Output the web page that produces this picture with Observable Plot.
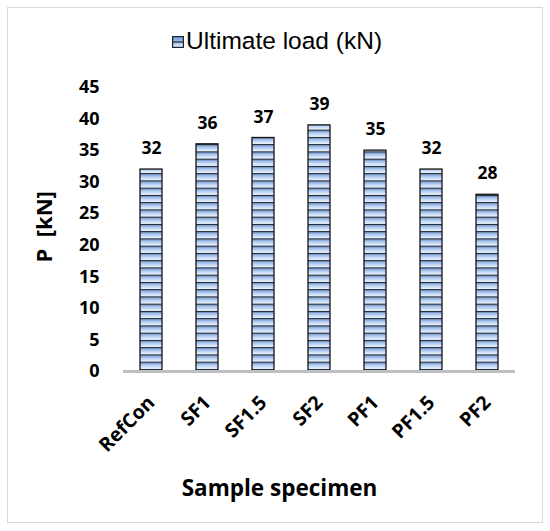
<!DOCTYPE html>
<html>
<head>
<meta charset="utf-8">
<script src="https://cdn.jsdelivr.net/npm/d3@7"></script>
<script src="https://cdn.jsdelivr.net/npm/@observablehq/plot@0.6"></script>
<style>
  html, body { margin: 0; padding: 0; background: #fff; }
  #wrap { position: relative; width: 550px; height: 531px; background: #fff; overflow: hidden; }
  #frame { position: absolute; left: 7px; top: 7px; width: 534px; height: 514px; border: 1px solid #d9d9d9; pointer-events: none; }
  #legend { position: relative; width: 550px; height: 70px; }
  #legend svg.key { position: absolute; left: 172px; top: 35.5px; }
  #legend span { position: absolute; left: 186px; top: 29px; font-family: "Liberation Sans", Arial, sans-serif; font-size: 24.5px; line-height: 24px; color: #000; white-space: nowrap; }
  #plot { position: absolute; left: 0; top: 70px; }
</style>
</head>
<body>
<div id="wrap">
  <div id="legend">
    <svg class="key" width="12" height="12" viewBox="0 0 12 12">
      <defs>
        <linearGradient id="keyGrad" x1="0" y1="0" x2="0" y2="1">
          <stop offset="0" stop-color="#6b97d6"/>
          <stop offset="1" stop-color="#e2ecfa"/>
        </linearGradient>
      </defs>
      <rect x="0.6" y="0.6" width="10.8" height="10.8" fill="url(#keyGrad)" stroke="#1c2633" stroke-width="1.2"/>
      <rect x="0.6" y="5.4" width="10.8" height="1.2" fill="#1c2633"/>
    </svg>
    <span>Ultimate load (kN)</span>
  </div>
  <div id="plot"></div>
  <div id="frame"></div>
</div>
<script>
// ---- data ----
const specimens = ["RefCon", "SF1", "SF1.5", "SF2", "PF1", "PF1.5", "PF2"];
const loads = [32, 36, 37, 39, 35, 32, 28];
const yTicks = [0, 5, 10, 15, 20, 25, 30, 35, 40, 45];
const yTitle = "P\u00a0\u00a0[kN]";
const xTitle = "Sample specimen";

const rows = specimens.map((name, i) => ({name, value: loads[i]}));

const STRIPE = 7.25;
const font = "'Open Sans', Lato, sans-serif";

function stripeDefs(index, scales) {
  const ns = "http://www.w3.org/2000/svg";
  const g = document.createElementNS(ns, "g");
  const y0 = scales.y(0);
  g.innerHTML = `
    <defs>
      <linearGradient id="cellGrad" x1="0" y1="0" x2="0" y2="1">
        <stop offset="0" stop-color="#77a0db"/>
        <stop offset="0.4" stop-color="#b3cdf1"/>
        <stop offset="1" stop-color="#f0f6fe"/>
      </linearGradient>
      <pattern id="stripes" patternUnits="userSpaceOnUse" width="20" height="${STRIPE}"
               patternTransform="translate(0, ${y0 - 2.1})">
        <rect x="0" y="1.15" width="20" height="${STRIPE - 1.15}" fill="url(#cellGrad)"/>
        <rect x="0" y="0" width="20" height="1.15" fill="#14202e"/>
      </pattern>
    </defs>`;
  return g;
}

const chart = Plot.plot({
  width: 550,
  height: 461,
  marginTop: 17,
  marginBottom: 160,
  marginLeft: 123,
  marginRight: 35,
  style: {background: "transparent", color: "#000", fontFamily: font, overflow: "visible"},
  x: {domain: specimens, paddingInner: 0.6, paddingOuter: 0.3, axis: null},
  y: {domain: [0, 45], axis: null},
  marks: [
    stripeDefs,
    Plot.barY(rows, {x: "name", y: "value", fill: "url(#stripes)", stroke: "#141414", strokeWidth: 1.3}),
    Plot.ruleY([0], {stroke: "#bfbfbf", strokeWidth: 3}),
    Plot.axisY({ticks: yTicks, tickSize: 0, tickPadding: 24, fontSize: 18, fontWeight: "bold", fontFamily: font, label: null}),
    Plot.text(rows, {x: "name", y: "value", text: d => String(d.value), dy: -21, fontSize: 17.5, fontWeight: "bold", fontFamily: font, fill: "#000"}),
    Plot.text(specimens, {x: d => d, y: () => 0, text: d => d, rotate: -45, textAnchor: "end", lineAnchor: "middle", dx: 0, dy: 28, fontSize: 19.5, fontWeight: "bold", fontFamily: font, fill: "#000"}),
    Plot.text([yTitle], {frameAnchor: "left", text: d => d, rotate: -90, dx: -79, dy: 33, fontSize: 22, fontWeight: "bold", fontFamily: font, fill: "#000"}),
    Plot.text([xTitle], {frameAnchor: "bottom", text: d => d, dx: -40, dy: 124, fontSize: 22.5, fontWeight: "bold", fontFamily: font, fill: "#000"})
  ]
});
document.getElementById("plot").appendChild(chart);
</script>
</body>
</html>
